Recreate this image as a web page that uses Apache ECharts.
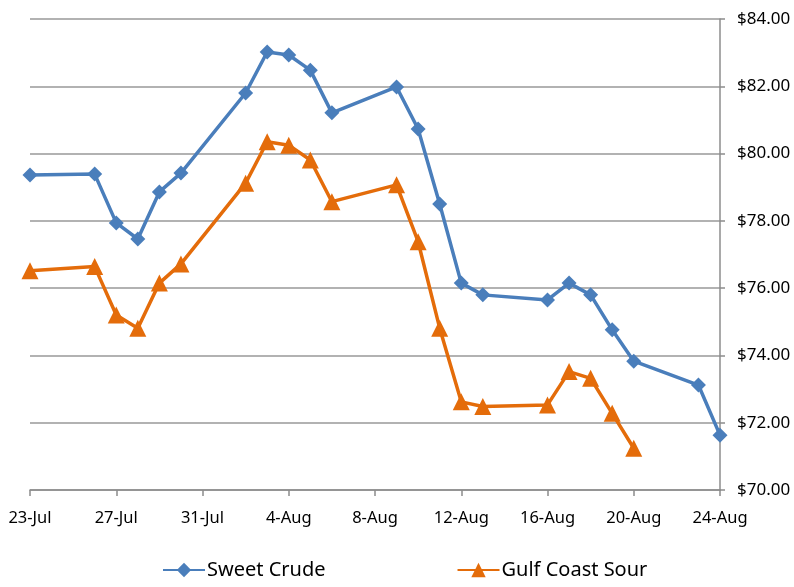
<!DOCTYPE html>
<html>
<head>
    <meta http-equiv="Content-Type" content="text/html; charset=utf-8"/>
    <title>Crude prices</title>
    <style>
        html, body { margin: 0; padding: 0; background: #fff; }
        #main { width: 794px; height: 587px; }
    </style>
    <script src="https://cdn.jsdelivr.net/npm/echarts@6/dist/echarts.min.js"></script>
</head>
<body>
<div id="main"></div>
<script type="text/javascript">
    // dates of the observations
    var sweetDates = ['2010-07-23','2010-07-26','2010-07-27','2010-07-28','2010-07-29','2010-07-30',
        '2010-08-02','2010-08-03','2010-08-04','2010-08-05','2010-08-06','2010-08-09','2010-08-10',
        '2010-08-11','2010-08-12','2010-08-13','2010-08-16','2010-08-17','2010-08-18','2010-08-19',
        '2010-08-20','2010-08-23','2010-08-24'];
    var sweetCrude = [79.36, 79.39, 77.94, 77.46, 78.86, 79.42,
        81.80, 83.02, 82.93, 82.48, 81.21, 81.98, 80.73,
        78.50, 76.15, 75.80, 75.65, 76.15, 75.80, 74.76,
        73.83, 73.12, 71.63];

    var sourDates = ['2010-07-23','2010-07-26','2010-07-27','2010-07-28','2010-07-29','2010-07-30',
        '2010-08-02','2010-08-03','2010-08-04','2010-08-05','2010-08-06','2010-08-09','2010-08-10',
        '2010-08-11','2010-08-12','2010-08-13','2010-08-16','2010-08-17','2010-08-18','2010-08-19',
        '2010-08-20'];
    var gulfSour = [76.52, 76.64, 75.20, 74.81, 76.15, 76.72,
        79.12, 80.35, 80.25, 79.81, 78.57, 79.07, 77.38,
        74.81, 72.62, 72.48, 72.53, 73.52, 73.32, 72.28,
        71.24];

    var startDate = '2010-07-23';
    var endDate = '2010-08-24';
    var months = ['Jan','Feb','Mar','Apr','May','Jun','Jul','Aug','Sep','Oct','Nov','Dec'];

    var DAY = 86400000;
    var t0 = Date.parse(startDate);
    function dayOf(s) { return Math.round((Date.parse(s) - t0) / DAY); }
    function pairs(dates, vals) {
        var out = [];
        for (var i = 0; i < dates.length; i++) out.push([dayOf(dates[i]), vals[i]]);
        return out;
    }

    var myChart = echarts.init(document.getElementById('main'));
    var font = '"Noto Sans", "Open Sans", sans-serif';
    option = {
        animation: false,
        grid: { left: 30, right: 74, top: 19, bottom: 97 },
        legend: {
            bottom: 2,
            left: 157,
            itemGap: 131,
            itemWidth: 42,
            itemHeight: 18,
            textStyle: { fontSize: 20, color: '#000', fontFamily: font, padding: [0, 0, 0, -3] },
            data: ['Sweet Crude', 'Gulf Coast Sour']
        },
        xAxis: {
            type: 'value',
            min: 0,
            max: dayOf(endDate),
            interval: 4,
            axisLine: { show: true, onZero: false, lineStyle: { color: '#8c8c8c', width: 1.5 } },
            axisTick: { show: true, length: 6, lineStyle: { color: '#8c8c8c', width: 1.5 } },
            splitLine: { show: false },
            axisLabel: {
                margin: 20,
                fontSize: 16.5,
                color: '#000',
                fontFamily: font,
                formatter: function (v) {
                    var d = new Date(t0 + v * DAY);
                    return d.getUTCDate() + '-' + months[d.getUTCMonth()];
                }
            }
        },
        yAxis: {
            type: 'value',
            position: 'right',
            min: 70,
            max: 84,
            interval: 2,
            axisLine: { show: true, onZero: false, lineStyle: { color: '#8c8c8c', width: 1.5 } },
            axisTick: { show: true, length: 5, lineStyle: { color: '#8c8c8c', width: 1.5 } },
            splitLine: { show: true, lineStyle: { color: '#999999', width: 1.5 } },
            axisLabel: {
                margin: 17,
                fontSize: 17,
                color: '#000',
                fontFamily: font,
                formatter: function (v) { return '$' + v.toFixed(2); }
            }
        },
        series: [
            {
                name: 'Sweet Crude',
                type: 'line',
                data: pairs(sweetDates, sweetCrude),
                symbol: 'diamond',
                symbolSize: 15,
                itemStyle: { color: '#4a7ebb' },
                lineStyle: { color: '#4a7ebb', width: 3.5 }
            },
            {
                name: 'Gulf Coast Sour',
                type: 'line',
                data: pairs(sourDates, gulfSour),
                symbol: 'triangle',
                symbolSize: 17,
                itemStyle: { color: '#e46c0a' },
                lineStyle: { color: '#e46c0a', width: 3.5 }
            }
        ]
    };
    myChart.setOption(option);
</script>
</body>
</html>
